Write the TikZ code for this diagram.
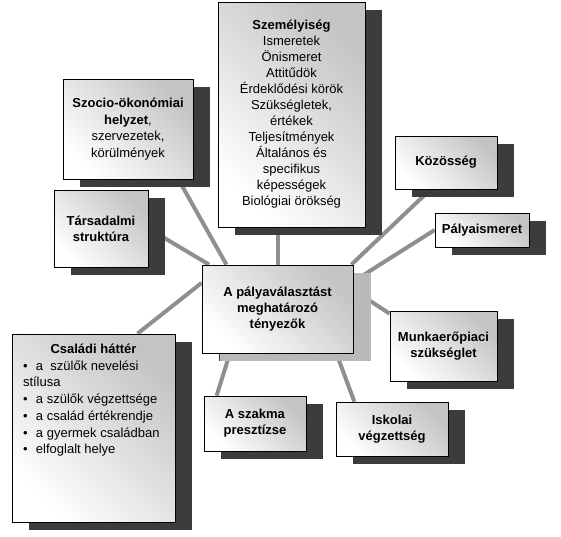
\documentclass[tikz,border=0pt]{standalone}
\usepackage{fontspec}
\setmainfont{Liberation Sans}
\usetikzlibrary{shadows,backgrounds}

\definecolor{arnyek}{HTML}{3C3C3C}
\definecolor{vilagosarnyek}{HTML}{B9B9B9}
\definecolor{vonal}{HTML}{8F8F8F}
\definecolor{szurke}{HTML}{C4C4C4}

\newcommand{\pont}[1]{\par\hangindent=13pt\hangafter=1\noindent\makebox[13pt][l]{\textbullet}#1}

\begin{document}
\begin{tikzpicture}[
    x=1pt, y=-1pt,
    every node/.style={font=\fontsize{13}{16}\selectfont, align=center, inner sep=2pt},
    doboz/.style={draw=black, line width=0.8pt, top color=szurke, bottom color=white, shading angle=-45,
        general shadow={fill=arnyek, shadow xshift=17pt, shadow yshift=-8pt}},
    kozepdoboz/.style={doboz, general shadow={fill=vilagosarnyek, shadow xshift=18pt, shadow yshift=-8pt}},
    kapcsolat/.style={draw=vonal, line width=4pt},
]

\useasboundingbox (0,0) rectangle (561,536);

% Középső doboz
\node[kozepdoboz, minimum width=151pt, minimum height=88pt] (kozep) at (277.5,309)
    {\textbf{A pályaválasztást}\\\textbf{meghatározó}\\\textbf{tényezők}};

% Tényezők
\node[doboz, minimum width=147pt, minimum height=225pt] (szemely) at (291.5,114.5)
    {\textbf{Személyiség}\\Ismeretek\\Önismeret\\Attitűdök\\Érdeklődési körök\\Szükségletek,\\értékek\\Teljesítmények\\Általános és\\specifikus\\képességek\\Biológiai örökség};
\node[doboz, minimum width=130pt, minimum height=100pt, font=\fontsize{13}{16.5}\selectfont] (szocio) at (128,129)
    {\textbf{Szocio-ökonómiai}\\\textbf{helyzet},\\szervezetek,\\körülmények};
\node[doboz, minimum width=94pt, minimum height=77pt] (tarsadalmi) at (101,228.5)
    {\textbf{Társadalmi}\\\textbf{struktúra}};
\node[doboz, minimum width=102pt, minimum height=53pt] (kozosseg) at (446,162.5)
    {\textbf{Közösség}};
\node[doboz, minimum width=94pt, minimum height=34pt] (palya) at (482,230)
    {\textbf{Pályaismeret}};
\node[doboz, minimum width=107pt, minimum height=70pt] (munka) at (443.5,346)
    {\textbf{Munkaerőpiaci}\\\textbf{szükséglet}};
\node[doboz, minimum width=112pt, minimum height=54pt] (iskolai) at (392,429)
    {\textbf{Iskolai}\\\textbf{végzettség}};
\node[doboz, minimum width=102pt, minimum height=55pt] (szakma) at (255,423.5)
    {\textbf{A szakma}\\\textbf{presztízse}};
\node[doboz, inner xsep=11pt, inner ysep=0pt] (csaladi) at (93.5,428)
    {\parbox[c][188pt][t]{141pt}{\fontsize{13}{16.7}\selectfont\vspace*{10pt}%
    {\centering\textbf{Családi háttér}\par}\raggedright
    \pont{a\ \ szülők nevelési\\stílusa}
    \pont{a szülők végzettsége}
    \pont{a család értékrendje}
    \pont{a gyermek családban}
    \pont{elfoglalt helye}}};

% Kapcsolatok
\begin{scope}[on background layer]
\draw[kapcsolat] (szemely.south -| kozep.north) -- (kozep.north);
\draw[kapcsolat] (szocio.-45) -- (kozep.139);
\draw[kapcsolat] (tarsadalmi.east) -- (kozep.147);
\draw[kapcsolat] (kozosseg.-120) -- (kozep.31);
\draw[kapcsolat] (palya.west) -- (kozep.20);
\draw[kapcsolat] (munka.149) -- (kozep.14);
\draw[kapcsolat] (iskolai.144) -- (kozep.-37);
\draw[kapcsolat] (szakma.144) -- (kozep.-137);
\draw[kapcsolat] (csaladi.65) -- (kozep.161);
\end{scope}

\end{tikzpicture}
\end{document}
